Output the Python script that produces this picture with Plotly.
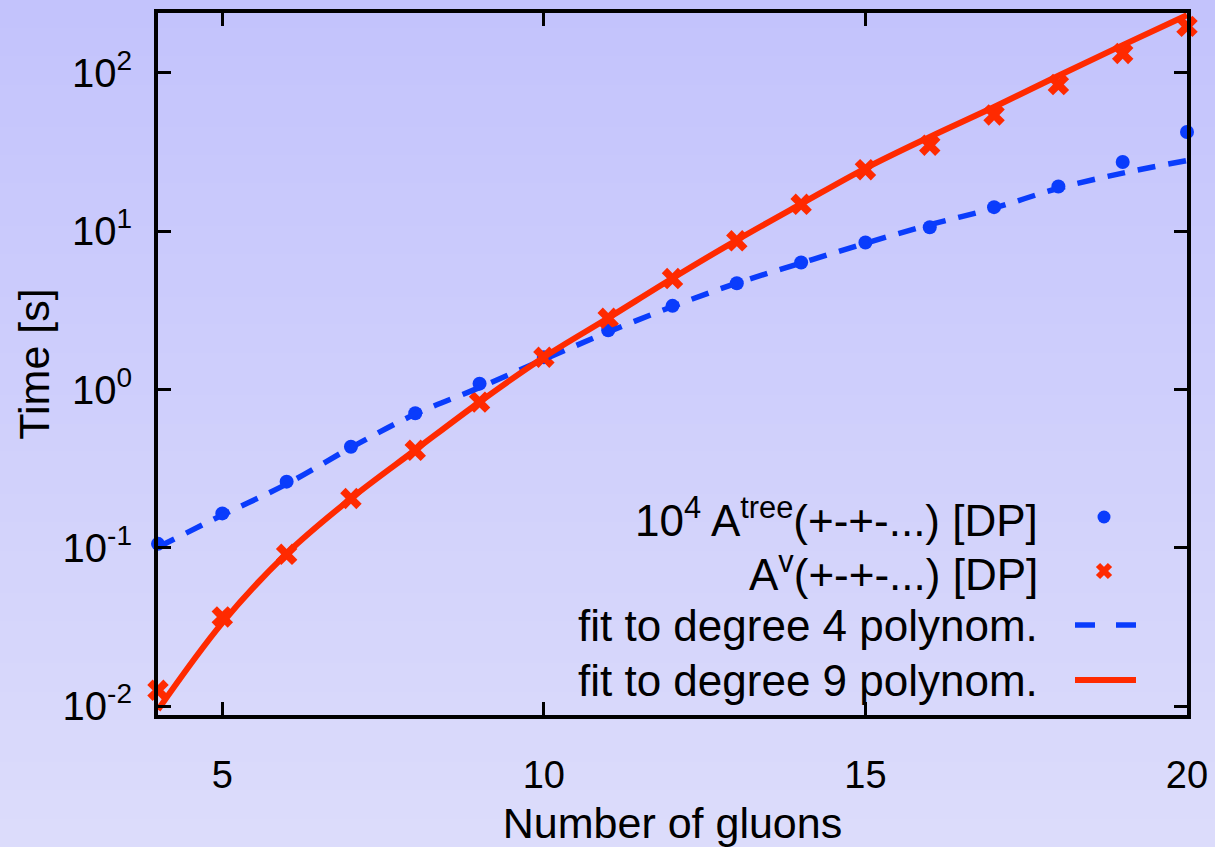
import plotly.graph_objects as go

# ---------------- data ----------------
n_gluons = [4, 5, 6, 7, 8, 9, 10, 11, 12, 13, 14, 15, 16, 17, 18, 19, 20]
tree_times = [0.106, 0.165, 0.262, 0.435, 0.708, 1.09, 1.6, 2.37, 3.38, 4.7,
              6.35, 8.5, 10.6, 14.2, 19.2, 27.4, 42.4]
virt_times = [0.0126, 0.0366, 0.091, 0.205, 0.413, 0.833, 1.6, 2.82, 5.03, 8.7,
              14.8, 24.5, 35.0, 54.3, 84.5, 133, 197]
fit4_times = [0.101, 0.161, 0.253, 0.43, 0.70, 1.03, 1.55, 2.31, 3.35, 4.7,
              6.3, 8.4, 11.0, 14.0, 18.7, 23.3, 28.0]
fit9_times = [0.0095, 0.0336, 0.092, 0.205, 0.415, 0.835, 1.6, 2.83, 5.05, 8.8,
              14.9, 25.0, 39.5, 61, 96, 150, 232]

x_ticks = [5, 10, 15, 20]
y_tickvals = [0.01, 0.1, 1, 10, 100]
y_ticktext = ["10<sup>-2</sup>", "10<sup>-1</sup>", "10<sup>0</sup>",
              "10<sup>1</sup>", "10<sup>2</sup>"]

legend_labels = ["10<sup>4</sup> A<sup>tree</sup>(+-+-...) [DP]",
                 "A<sup>v</sup>(+-+-...) [DP]",
                 "fit to degree 4 polynom.",
                 "fit to degree 9 polynom."]

BLUE = "#0a3cfc"
RED = "#ff2a00"
FONT = "Liberation Sans, Arial, Helvetica, sans-serif"

W, H = 1215, 847
ML, MR, MT, MB = 158, 28, 13, 132
PW, PH = W - ML - MR, H - MT - MB


def px_to_paper_x(px):
    return (px - ML) / PW


def px_to_paper_y(py):
    return (H - MB - py) / PH


fig = go.Figure()

fig.add_trace(go.Scatter(x=n_gluons, y=tree_times, mode="markers",
                         name="10^4 A^tree(+-+-...) [DP]",
                         marker=dict(symbol="circle", size=14, color=BLUE),
                         cliponaxis=False, showlegend=False))
fig.add_trace(go.Scatter(x=n_gluons, y=virt_times, mode="markers",
                         name="A^v(+-+-...) [DP]",
                         marker=dict(symbol="x", size=19, color=RED, line=dict(width=0)),
                         cliponaxis=False, showlegend=False))
fig.add_trace(go.Scatter(x=n_gluons, y=fit4_times, mode="lines",
                         name="fit to degree 4 polynom.",
                         line=dict(color=BLUE, width=5.5, dash="18px,13px", shape="spline"),
                         showlegend=False))
fig.add_trace(go.Scatter(x=n_gluons, y=fit9_times, mode="lines",
                         name="fit to degree 9 polynom.",
                         line=dict(color=RED, width=6, shape="spline"),
                         showlegend=False))

shapes = []
# vertical background gradient
top_rgb = (195, 195, 252)
bot_rgb = (220, 220, 251)
N = 60
for i in range(N):
    t = i / (N - 1)
    c = tuple(round(top_rgb[k] + (bot_rgb[k] - top_rgb[k]) * t) for k in range(3))
    y_top = H * i / N
    y_bot = H * (i + 1) / N + 1
    shapes.append(dict(type="rect", xref="paper", yref="paper",
                       x0=px_to_paper_x(-5), x1=px_to_paper_x(W + 5),
                       y0=px_to_paper_y(y_bot), y1=px_to_paper_y(y_top),
                       fillcolor="rgb(%d,%d,%d)" % c, line=dict(width=0),
                       layer="below"))

# manual gnuplot-style legend (text right-aligned, sample on the right)
leg_rows = [517, 571, 625, 680]
text_right = 1040
samp_l, samp_r, samp_c = 1075, 1136, 1104
annotations = []
for lab, row in zip(legend_labels, leg_rows):
    annotations.append(dict(text=lab, xref="paper", yref="paper",
                            x=px_to_paper_x(text_right), y=px_to_paper_y(row),
                            xanchor="right", yanchor="middle", showarrow=False,
                            font=dict(family=FONT, size=44, color="black")))
# blue dot sample
r = 6.5
shapes.append(dict(type="circle", xref="paper", yref="paper",
                   x0=px_to_paper_x(samp_c - r), x1=px_to_paper_x(samp_c + r),
                   y0=px_to_paper_y(leg_rows[0] + r), y1=px_to_paper_y(leg_rows[0] - r),
                   fillcolor=BLUE, line=dict(width=0)))
# red x sample
d = 6
for sx in (-1, 1):
    shapes.append(dict(type="line", xref="paper", yref="paper",
                       x0=px_to_paper_x(samp_c - d), x1=px_to_paper_x(samp_c + d),
                       y0=px_to_paper_y(leg_rows[1] - sx * d), y1=px_to_paper_y(leg_rows[1] + sx * d),
                       line=dict(color=RED, width=6)))
# dashed blue sample
for a, b in ((samp_l, samp_l + 20), (samp_r - 20, samp_r)):
    shapes.append(dict(type="line", xref="paper", yref="paper",
                       x0=px_to_paper_x(a), x1=px_to_paper_x(b),
                       y0=px_to_paper_y(leg_rows[2]), y1=px_to_paper_y(leg_rows[2]),
                       line=dict(color=BLUE, width=5.5)))
# solid red sample
shapes.append(dict(type="line", xref="paper", yref="paper",
                   x0=px_to_paper_x(samp_l), x1=px_to_paper_x(samp_r),
                   y0=px_to_paper_y(leg_rows[3]), y1=px_to_paper_y(leg_rows[3]),
                   line=dict(color=RED, width=6)))

fig.update_layout(
    width=W, height=H,
    margin=dict(l=ML, r=MR, t=MT, b=MB, pad=0, autoexpand=False),
    paper_bgcolor="rgb(207,207,252)",
    plot_bgcolor="rgba(0,0,0,0)",
    font=dict(family=FONT, color="black"),
    shapes=shapes,
    annotations=annotations,
    showlegend=False,
)

fig.update_xaxes(
    range=[4, 20], tickvals=x_ticks, ticks="inside", ticklen=13, tickwidth=3,
    tickcolor="black", showline=True, linewidth=4, linecolor="black", mirror="ticks",
    showgrid=False, zeroline=False, tickfont=dict(size=38, family=FONT),
    ticklabelstandoff=23, automargin=False,
    title=dict(text="Number of gluons", font=dict(size=43, family=FONT), standoff=16),
)
fig.update_yaxes(
    type="log", range=[-2.056, 2.379], tickvals=y_tickvals, ticktext=y_ticktext,
    ticks="inside", ticklen=13, tickwidth=3, tickcolor="black",
    showline=True, linewidth=4, linecolor="black", mirror="ticks",
    showgrid=False, zeroline=False, tickfont=dict(size=40, family=FONT),
    ticklabelstandoff=14, automargin=False,
    title=dict(text="Time [s]", font=dict(size=43, family=FONT), standoff=1),
)

fig.write_html("out.html",
               config={"displayModeBar": False},
               post_script="document.body.style.margin='0';document.body.style.overflow='hidden';")
